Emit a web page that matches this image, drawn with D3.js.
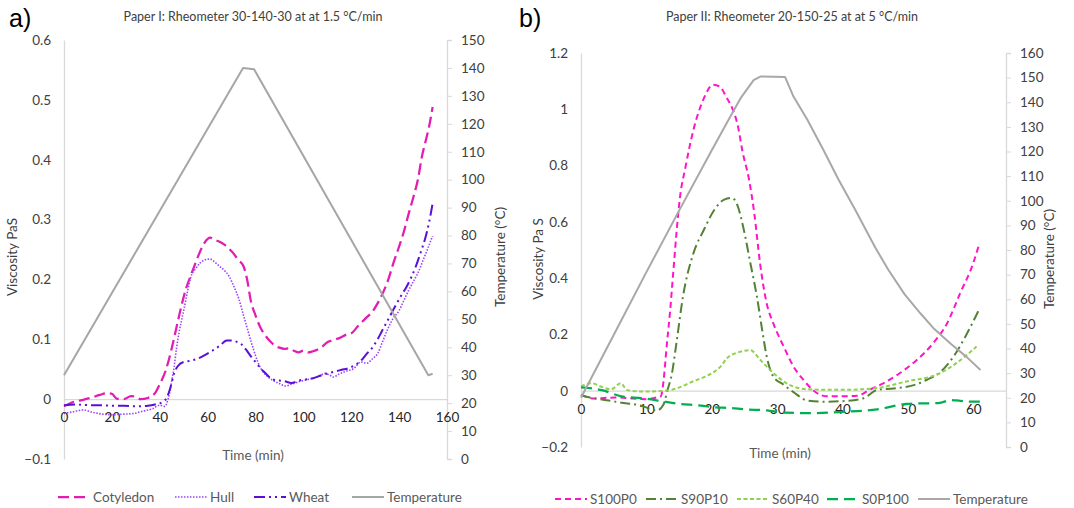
<!DOCTYPE html>
<html>
<head>
<meta charset="utf-8">
<script src="https://cdn.jsdelivr.net/npm/d3@7"></script>
<style>
  body { margin: 0; background: #fff; }
  svg { display: block; font-family: Lato, "Open Sans", sans-serif; }
</style>
</head>
<body>
<svg id="chart" width="1074" height="508"></svg>
<script>
// ---------------- data: panel a (Paper I) ----------------
const aTempTime = [0, 74.8, 79.4, 152.2, 154];
const aTempVal  = [30, 140, 139.5, 30, 30.5];

const cotyledonTime = [0, 3, 7, 11, 15, 18, 20, 22, 25, 28, 30, 32, 35, 38, 40, 42.5, 45, 47, 49, 51, 53, 55, 57, 59, 61, 63, 65, 67, 70, 73, 75, 76.5, 78, 80, 82, 84, 86, 88, 90, 92, 94, 96, 98, 100, 102, 104, 106, 108, 110, 112, 115, 118, 120, 123, 126, 129, 131, 133.5, 135.5, 137.5, 140, 142, 144, 146, 148, 149.5, 151, 152.5, 154];
const cotyledonVal  = [-0.012, -0.006, -0.002, 0.002, 0.007, 0.01, 0.009, 0.001, 0, 0.005, 0.004, 0, 0.002, 0.01, 0.025, 0.048, 0.085, 0.12, 0.155, 0.185, 0.207, 0.228, 0.248, 0.263, 0.27, 0.266, 0.263, 0.258, 0.247, 0.232, 0.222, 0.2, 0.165, 0.14, 0.12, 0.107, 0.097, 0.09, 0.086, 0.084, 0.085, 0.081, 0.078, 0.081, 0.078, 0.08, 0.083, 0.088, 0.095, 0.098, 0.102, 0.108, 0.11, 0.123, 0.135, 0.147, 0.16, 0.18, 0.2, 0.226, 0.255, 0.28, 0.31, 0.338, 0.37, 0.405, 0.43, 0.455, 0.488];

const hullTime = [0, 4, 8, 12, 16, 20, 25, 29, 33, 37, 40, 42, 43.5, 45, 46, 47, 48, 49, 50, 51.5, 53, 55, 57, 59, 61, 63, 65, 67, 69, 71, 73, 75, 77, 79, 81, 83, 85, 87, 90, 92.5, 95, 98, 101, 104, 107, 109, 111, 112.5, 115, 118, 121, 124, 126.5, 129, 131, 133, 135, 137.5, 140, 142, 144, 146, 148, 150, 152, 154];
const hullVal  = [-0.024, -0.021, -0.018, -0.022, -0.025, -0.026, -0.025, -0.024, -0.02, -0.016, -0.01, -0.012, 0, 0.03, 0.054, 0.085, 0.11, 0.13, 0.148, 0.178, 0.204, 0.218, 0.228, 0.233, 0.234, 0.229, 0.222, 0.215, 0.205, 0.188, 0.168, 0.14, 0.112, 0.085, 0.062, 0.046, 0.038, 0.032, 0.026, 0.022, 0.025, 0.029, 0.032, 0.035, 0.039, 0.043, 0.04, 0.037, 0.042, 0.047, 0.051, 0.062, 0.06, 0.068, 0.076, 0.095, 0.115, 0.135, 0.148, 0.165, 0.182, 0.197, 0.212, 0.232, 0.252, 0.273];

const wheatTime = [0, 5, 10, 15, 20, 25, 30, 35, 38, 41, 43, 44.5, 46, 47.5, 50, 53, 56, 59, 62, 65, 68, 70, 72, 74, 76, 78, 80, 82, 84, 86, 88, 90, 92, 95, 98, 101, 104, 107, 110, 113, 116, 119, 122, 124, 126.5, 129, 131, 133, 135, 137, 139, 141, 143, 145, 147, 149, 151, 152.5, 154];
const wheatVal  = [-0.01, -0.009, -0.01, -0.01, -0.011, -0.011, -0.012, -0.011, -0.009, -0.005, 0.003, 0.02, 0.043, 0.055, 0.062, 0.064, 0.068, 0.074, 0.081, 0.089, 0.098, 0.098, 0.096, 0.092, 0.083, 0.072, 0.062, 0.052, 0.044, 0.036, 0.032, 0.031, 0.03, 0.027, 0.031, 0.033, 0.035, 0.039, 0.043, 0.046, 0.049, 0.052, 0.058, 0.064, 0.076, 0.087, 0.1, 0.115, 0.13, 0.145, 0.16, 0.174, 0.187, 0.203, 0.222, 0.245, 0.27, 0.295, 0.327];

const aViscTicks = [-0.1, 0, 0.1, 0.2, 0.3, 0.4, 0.5, 0.6];
const aTempTicks = d3.range(0, 151, 10);
const aTimeTicks = d3.range(0, 161, 20);

// ---------------- data: panel b (Paper II) ----------------
const bTempTime = [0, 5, 10, 15, 20, 22.8, 24.5, 26.4, 27.5, 31.2, 32.5, 34.6, 37, 39.4, 42, 45, 47, 49.5, 51.9, 54, 56.5, 59, 61.1];
const bTempVal  = [20, 45.5, 71, 96, 120.5, 134, 142, 149, 150.5, 150.3, 142.3, 133, 121, 108.5, 96, 81, 72, 62, 54.3, 48, 42, 36.5, 31.3];

const s100p0Time = [0, 2, 4, 6, 8, 10, 11.5, 12.2, 12.6, 13.1, 13.6, 14.1, 14.6, 15.1, 16, 17.2, 18.7, 20.2, 21.2, 22.3, 23.2, 24, 24.7, 25.7, 26.5, 27.4, 28.4, 29.4, 31, 32.5, 34, 35.6, 37.6, 39.6, 42.2, 44.2, 46.3, 48.8, 51.4, 53.9, 56, 58, 60, 60.8];
const s100p0Val  = [-0.015, -0.028, -0.025, -0.024, -0.028, -0.03, -0.024, -0.02, 0.03, 0.157, 0.276, 0.418, 0.56, 0.68, 0.797, 0.927, 1.034, 1.087, 1.081, 1.04, 1.0, 0.94, 0.85, 0.75, 0.631, 0.45, 0.31, 0.24, 0.157, 0.086, 0.039, 0, -0.02, -0.02, -0.018, 0.004, 0.027, 0.063, 0.11, 0.17, 0.24, 0.347, 0.454, 0.513];

const s90p10Time = [0, 1.5, 3, 6, 9, 11.6, 12.6, 13.2, 13.9, 14.6, 15.6, 17.2, 18.8, 20.4, 21.9, 23.1, 23.9, 24.9, 25.9, 26.9, 27.7, 28.4, 29.4, 31, 32.5, 34.6, 37.1, 40.7, 43.2, 45.3, 47.8, 50.9, 52.9, 55, 57, 58.8, 61];
const s90p10Val  = [-0.015, -0.025, -0.03, -0.042, -0.052, -0.07, -0.05, 0, 0.06, 0.17, 0.335, 0.489, 0.572, 0.643, 0.679, 0.685, 0.66, 0.572, 0.454, 0.335, 0.217, 0.122, 0.051, 0.021, -0.005, -0.035, -0.039, -0.036, -0.027, 0.003, 0.008, 0.02, 0.039, 0.067, 0.122, 0.193, 0.294];

const s60p40Time = [0, 1.6, 3, 4.6, 6.1, 7, 8.5, 10, 11.6, 13.1, 15.1, 17, 19, 20.4, 21.5, 22.3, 24.3, 25.9, 27.4, 29.4, 31.4, 34.6, 39.6, 44.7, 49.8, 54.9, 57.4, 60.5];
const s60p40Val  = [0.015, 0.027, 0.015, 0.005, 0.027, 0.003, -0.002, -0.003, -0.002, 0, 0.012, 0.032, 0.05, 0.068, 0.09, 0.115, 0.138, 0.144, 0.11, 0.063, 0.027, 0.005, 0.003, 0.008, 0.033, 0.062, 0.098, 0.157];

const s0p100Time = [0, 3.2, 6.2, 9.6, 13, 15.2, 18, 20, 23, 25, 28.4, 31.2, 35, 40.1, 45.3, 49.8, 54.9, 56.6, 58, 60, 61];
const s0p100Val  = [0.012, 0.002, -0.02, -0.027, -0.04, -0.047, -0.052, -0.058, -0.062, -0.066, -0.07, -0.078, -0.08, -0.075, -0.066, -0.047, -0.043, -0.033, -0.036, -0.039, -0.039];

const bViscTicks = [-0.2, 0, 0.2, 0.4, 0.6, 0.8, 1, 1.2];
const bTempTicks = d3.range(0, 161, 10);
const bTimeTicks = d3.range(0, 61, 10);

// ---------------- drawing ----------------
const svg = d3.select("#chart");
const zip = (ts, vs) => ts.map((t, i) => [t, vs[i]]);

function drawPanel(p) {
  const x = d3.scaleLinear().domain(p.xDomain).range([p.left, p.right]);
  const yV = d3.scaleLinear().domain(p.vDomain).range([p.bottom, p.top]);
  const yT = d3.scaleLinear().domain(p.tDomain).range([p.bottom, p.top]);
  const g = svg.append("g");

  // left axis (no ticks)
  const la = g.append("g").attr("transform", `translate(${p.left},0)`)
    .call(d3.axisLeft(yV).tickValues(p.vTicks).tickSize(0).tickPadding(13)
      .tickFormat(d => d3.format("")(+d.toFixed(2))));
  // right axis (outer ticks)
  const ra = g.append("g").attr("transform", `translate(${p.right},0)`)
    .call(d3.axisRight(yT).tickValues(p.tTicks).tickSize(5).tickPadding(9));
  // x axis crossing at viscosity 0
  const xa = g.append("g").attr("transform", `translate(0,${yV(0)})`)
    .call(d3.axisBottom(x).tickValues(p.xTicks).tickSize(0).tickPadding(p.xPad));

  [la, ra, xa].forEach(a => {
    a.select(".domain").attr("stroke", "#d9d9d9").attr("stroke-width", 1.3);
    a.selectAll(".tick line").attr("stroke", "#d9d9d9");
    a.selectAll("text").attr("fill", "#404040").style("font-size", "13.5px")
      .style("font-family", "Lato, sans-serif");
  });
  xa.selectAll("text").attr("fill", "#262626");

  // series: viscosity curves smoothed, temperature programme drawn straight
  p.series.forEach(s => {
    const y = s.temp ? yT : yV;
    const line = d3.line().x(d => x(d[0])).y(d => y(d[1]))
      .curve(s.temp ? d3.curveLinear : d3.curveMonotoneX);
    g.append("path").datum(zip(s.t, s.v))
      .attr("fill", "none").attr("stroke", s.color).attr("stroke-width", s.w)
      .attr("stroke-linejoin", "round")
      .attr("stroke-dasharray", s.dash).attr("d", line);
  });

  // titles
  g.append("text").attr("x", p.titleX).attr("y", 21).attr("text-anchor", "middle")
    .attr("fill", "#404040").style("font-size", "12.5px").text(p.title);
  g.append("text").attr("x", p.letterX).attr("y", 27)
    .style("font-family", "Liberation Sans, Arial, sans-serif").style("font-size", "25px")
    .attr("fill", "#000").text(p.letter);
  g.append("text").attr("transform", `translate(${p.vLabelX},${p.labelY}) rotate(-90)`)
    .attr("text-anchor", "middle").attr("fill", "#404040").style("font-size", "13.5px").text(p.vLabel);
  g.append("text").attr("transform", `translate(${p.tLabelX},${p.labelY}) rotate(-90)`)
    .attr("text-anchor", "middle").attr("fill", "#404040").style("font-size", "13.5px").text("Temperature (°C)");
  g.append("text").attr("x", p.timeX).attr("y", p.timeY).attr("text-anchor", "middle")
    .attr("fill", "#595959").style("font-size", "13.5px").text("Time (min)");

  // legend
  p.series.forEach(s => {
    const lg = g.append("g").attr("transform", `translate(${s.lx},${p.legendY})`);
    lg.append("line").attr("x1", 0).attr("x2", 32).attr("y1", 0).attr("y2", 0)
      .attr("stroke", s.color).attr("stroke-width", s.w).attr("stroke-dasharray", s.dash);
    lg.append("text").attr("x", 35).attr("y", 0).attr("dy", "0.35em")
      .attr("fill", "#595959").style("font-size", "13.5px").text(s.name);
  });
}

drawPanel({
  left: 64, right: 447, top: 40, bottom: 459,
  xDomain: [0, 160], vDomain: [-0.1, 0.6], tDomain: [0, 150],
  vTicks: aViscTicks, tTicks: aTempTicks, xTicks: aTimeTicks, xPad: 13,
  title: "Paper I: Rheometer 30-140-30 at at 1.5 °C/min", titleX: 253,
  letter: "a)", letterX: 9,
  vLabel: "Viscosity PaS", vLabelX: 17, tLabelX: 505, labelY: 257,
  timeX: 253, timeY: 460, legendY: 497,
  series: [
    {name: "Cotyledon", t: cotyledonTime, v: cotyledonVal, color: "#E21DB1", w: 2.25, dash: "11,5", lx: 58},
    {name: "Hull", t: hullTime, v: hullVal, color: "#9A44FF", w: 1.6, dash: "1.5,1.5", lx: 175},
    {name: "Wheat", t: wheatTime, v: wheatVal, color: "#5B0FD6", w: 2, dash: "11,4,2,4,2,4", lx: 254},
    {name: "Temperature", t: aTempTime, v: aTempVal, color: "#A6A6A6", w: 2, dash: null, lx: 352, temp: true}
  ]
});

drawPanel({
  left: 581, right: 1006, top: 53, bottom: 447,
  xDomain: [0, 65], vDomain: [-0.2, 1.2], tDomain: [0, 160],
  vTicks: bViscTicks, tTicks: bTempTicks, xTicks: bTimeTicks, xPad: 14,
  title: "Paper II: Rheometer 20-150-25 at at 5 °C/min", titleX: 792,
  letter: "b)", letterX: 519,
  vLabel: "Viscosity Pa S", vLabelX: 543, tLabelX: 1054, labelY: 259,
  timeX: 780, timeY: 458, legendY: 499,
  series: [
    {name: "S100P0", t: s100p0Time, v: s100p0Val, color: "#FF14C8", w: 2, dash: "6,4", lx: 555},
    {name: "S90P10", t: s90p10Time, v: s90p10Val, color: "#548235", w: 2, dash: "10,4,2,4", lx: 646},
    {name: "S60P40", t: s60p40Time, v: s60p40Val, color: "#92D050", w: 2, dash: "4,2.5", lx: 737},
    {name: "S0P100", t: s0p100Time, v: s0p100Val, color: "#00B050", w: 2.25, dash: "11,6", lx: 827},
    {name: "Temperature", t: bTempTime, v: bTempVal, color: "#ABA7A7", w: 2, dash: null, lx: 918, temp: true}
  ]
});
</script>
</body>
</html>
